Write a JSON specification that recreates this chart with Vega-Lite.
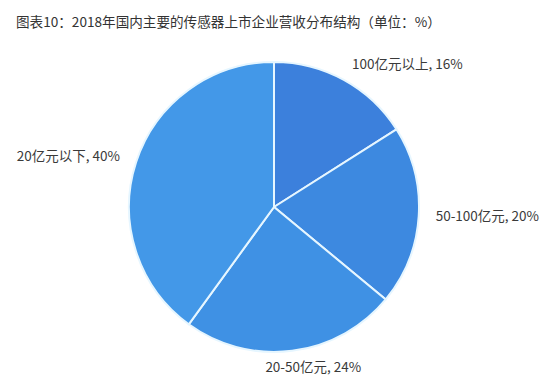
{
  "$schema": "https://vega.github.io/schema/vega-lite/v6.json",
  "width": 548,
  "height": 354,
  "autosize": "none",
  "padding": {"top": 30, "left": 0, "right": 0, "bottom": 0},
  "background": "white",
  "title": {
    "text": "图表10：2018年国内主要的传感器上市企业营收分布结构（单位：%）",
    "anchor": "start",
    "frame": "group",
    "dx": 16,
    "offset": 0,
    "font": "Noto Sans CJK SC",
    "fontSize": 13.6,
    "fontWeight": "normal",
    "color": "#333333"
  },
  "config": {"view": {"stroke": null}},
  "data": {
    "values": [
      {"cat": "100亿元以上", "value": 16},
      {"cat": "50-100亿元", "value": 20},
      {"cat": "20-50亿元", "value": 24},
      {"cat": "20亿元以下", "value": 40}
    ]
  },
  "transform": [
    {"window": [{"op": "row_number", "as": "rank"}]}
  ],
  "encoding": {
    "theta": {"field": "value", "type": "quantitative", "stack": true},
    "order": {"field": "rank", "type": "quantitative"}
  },
  "layer": [
    {
      "mark": {"type": "arc", "outerRadius": 145, "stroke": "#e6f6ff", "strokeWidth": 2},
      "encoding": {
        "color": {
          "field": "cat",
          "type": "nominal",
          "scale": {
            "domain": ["100亿元以上", "50-100亿元", "20-50亿元", "20亿元以下"],
            "range": ["#3c80dc", "#3d89e0", "#3f91e4", "#4398e8"]
          },
          "legend": null
        }
      }
    },
    {
      "mark": {
        "type": "text",
        "radius": 162,
        "font": "Noto Sans CJK SC",
        "fontSize": 13.5,
        "color": "#3a3a3a",
        "baseline": "middle",
        "align": {"expr": "datum.cat == '20亿元以下' ? 'right' : (datum.cat == '20-50亿元' ? 'center' : 'left')"},
        "dx": {"expr": "datum.cat == '20-50亿元' ? 19 : 0"}
      },
      "encoding": {
        "text": {"field": "label", "type": "nominal"}
      },
      "transform": [
        {"calculate": "datum.cat + ', ' + datum.value + '%'", "as": "label"}
      ]
    }
  ]
}
